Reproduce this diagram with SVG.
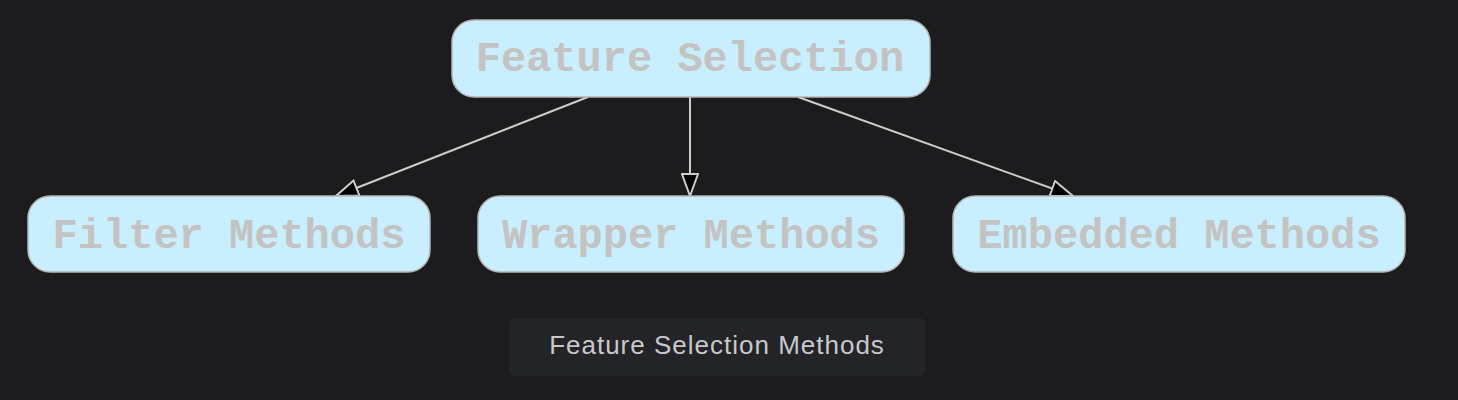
<svg xmlns="http://www.w3.org/2000/svg" width="1458" height="400" viewBox="0 0 1458 400">
<style>
.node rect{fill:#c9eefd;stroke:#b4b4b4;stroke-width:1.5}
.node text{font-family:"Liberation Mono","Courier New",monospace;font-weight:bold;font-size:42px;fill:#c3c3c3;text-anchor:middle}
.edge{stroke:#cccccc;stroke-width:2;fill:none;marker-end:url(#arr)}
.cap{font-family:"Liberation Sans",Arial,sans-serif;font-size:26px;letter-spacing:1px;fill:#c8c8cc;text-anchor:middle}
</style>
<defs>
<marker id="arr" markerUnits="userSpaceOnUse" viewBox="0 0 24 18" refX="23" refY="9" markerWidth="24" markerHeight="18" orient="auto">
<path d="M1,1 L23,9 L1,17 Z" fill="#000" stroke="#cccccc" stroke-width="2" stroke-linejoin="miter"/>
</marker>
</defs>
<rect width="1458" height="400" fill="#1c1c1e"/>
<g id="connectors">
<path class="edge" d="M588,97 L336,196"/>
<path class="edge" d="M690,97 L690,196"/>
<path class="edge" d="M798,97 L1073,196"/>
</g>
<g id="node-feature-selection" class="node">
<rect x="452" y="20" width="478" height="77" rx="22"/>
<text x="690" y="71">Feature Selection</text>
</g>
<g id="node-filter" class="node">
<rect x="28" y="196" width="402" height="76" rx="22"/>
<text x="229" y="248">Filter Methods</text>
</g>
<g id="node-wrapper" class="node">
<rect x="478" y="196" width="426" height="76" rx="22"/>
<text x="691" y="248">Wrapper Methods</text>
</g>
<g id="node-embedded" class="node">
<rect x="953" y="196" width="452" height="76" rx="22"/>
<text x="1179" y="248">Embedded Methods</text>
</g>
<g id="caption">
<rect x="509" y="318" width="416" height="58" rx="6" fill="#232428"/>
<text class="cap" x="717" y="354">Feature Selection Methods</text>
</g>
</svg>
